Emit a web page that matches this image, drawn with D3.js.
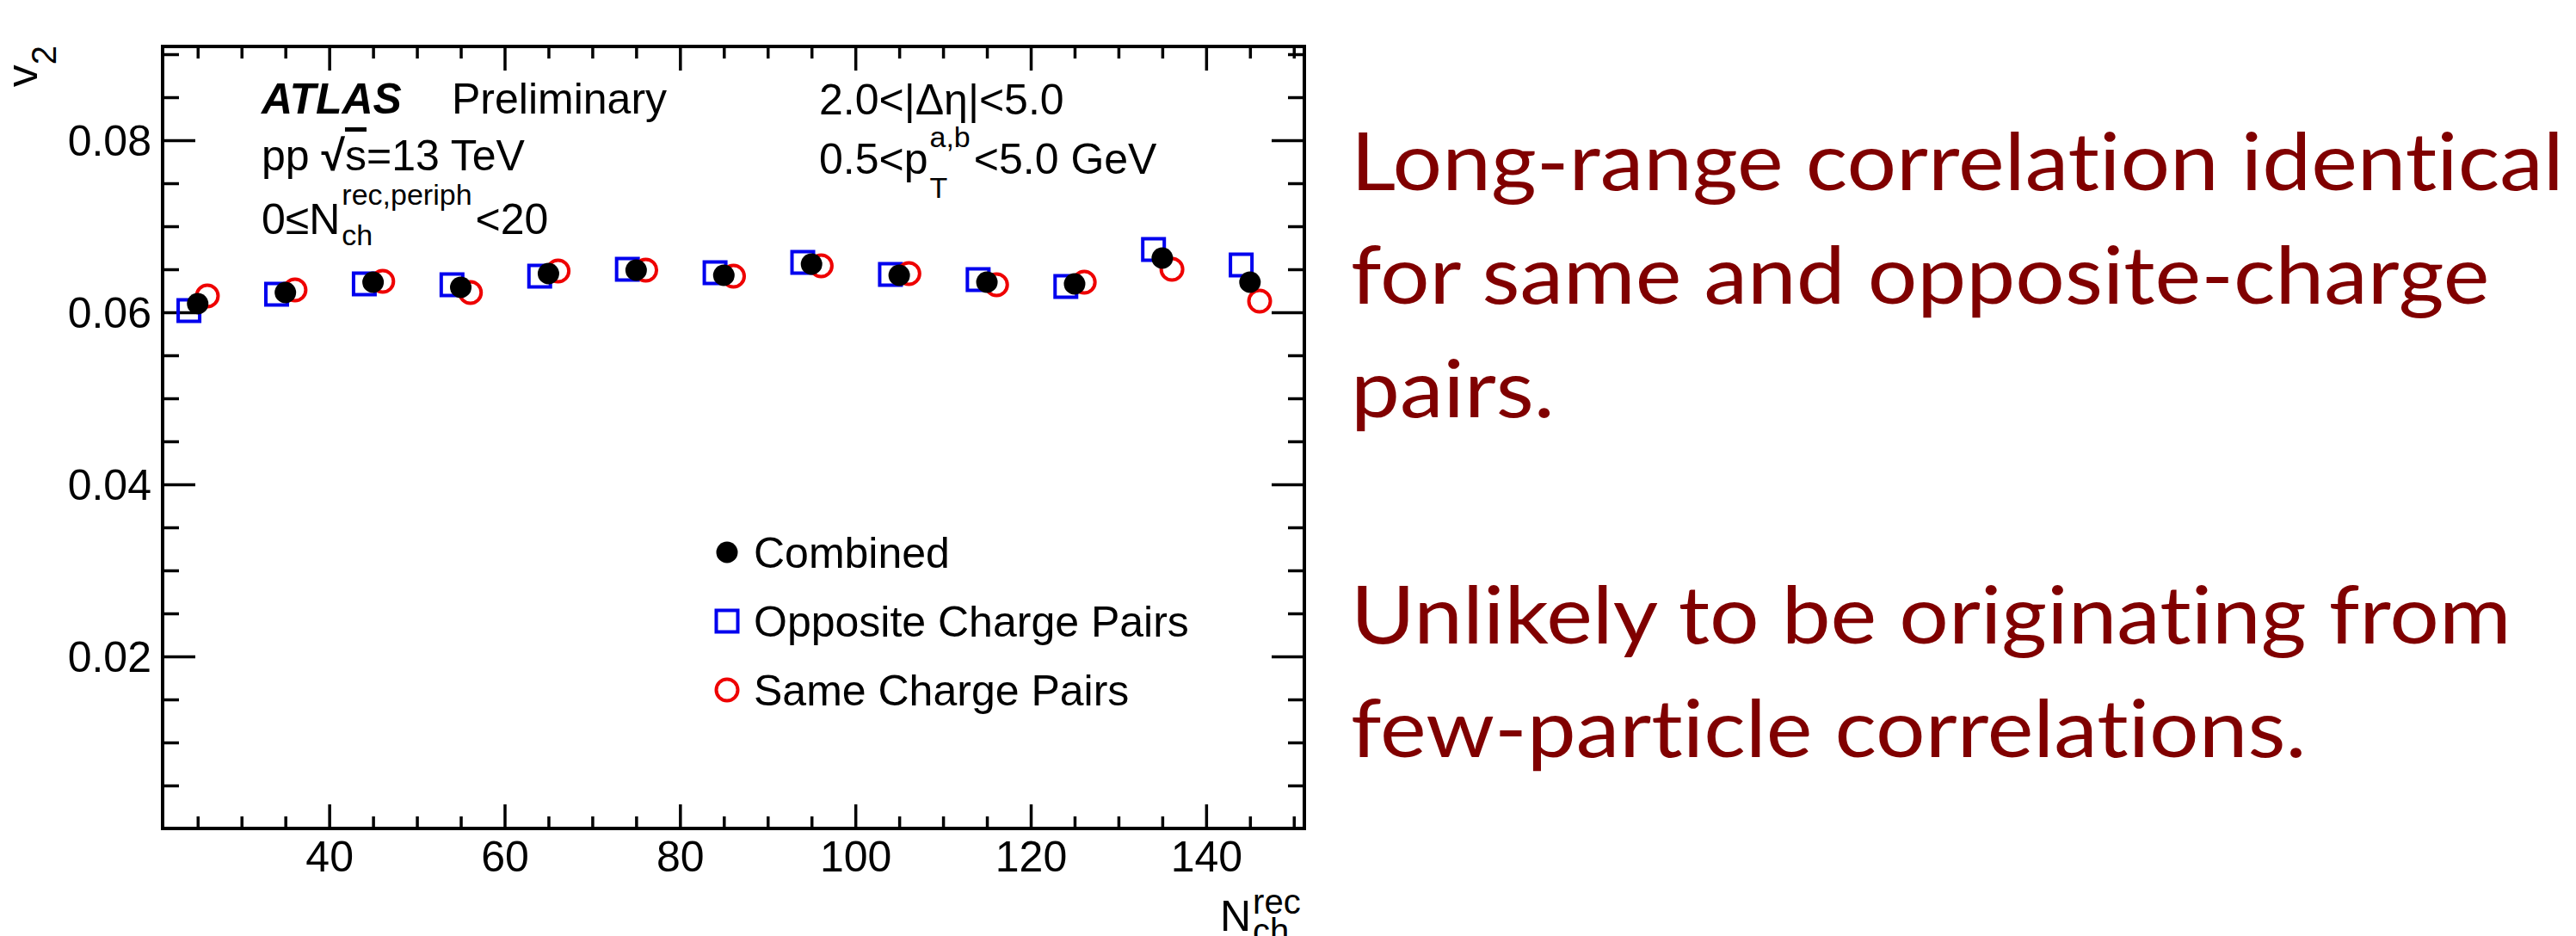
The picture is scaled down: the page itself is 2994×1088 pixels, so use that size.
<!doctype html>
<html>
<head>
<meta charset="utf-8">
<title>v2 vs Nch rec</title>
<script src="https://d3js.org/d3.v7.min.js"></script>
<style>
  body { margin: 0; background: #fff; }
  text { font-family: 'Liberation Sans', Arial, Helvetica, sans-serif; fill: #000; }
  .note { font-family: Lato, Carlito, Calibri, sans-serif; fill: #800000; font-variant-ligatures: none; }
</style>
</head>
<body>
<svg id="chart" width="2994" height="1088"></svg>
<script>
// values
const nch = [25, 35, 45, 55, 65, 75, 85, 95, 105, 115, 125, 135, 145];
const combined = [0.0610, 0.0623, 0.0635, 0.0629, 0.0645, 0.0649, 0.0643, 0.0656, 0.0643, 0.0635, 0.0633, 0.0663, 0.0635];
const opposite = [0.0602, 0.0621, 0.0633, 0.0632, 0.0642, 0.0650, 0.0646, 0.0658, 0.0644, 0.0638, 0.0630, 0.0673, 0.0655];
const same     = [0.0619, 0.0626, 0.0636, 0.0623, 0.0648, 0.0649, 0.0642, 0.0654, 0.0645, 0.0632, 0.0635, 0.0650, 0.0613];

const xMajor = [40, 60, 80, 100, 120, 140];
const xMinor = [25, 30, 35, 45, 50, 55, 65, 70, 75, 85, 90, 95, 105, 110, 115, 125, 130, 135, 145, 150];
const yMajor = [0.02, 0.04, 0.06, 0.08];
const yMinor = [0.005, 0.01, 0.015, 0.025, 0.03, 0.035, 0.045, 0.05, 0.055, 0.065, 0.07, 0.075, 0.085, 0.09];

const legendLabels = ["Combined", "Opposite Charge Pairs", "Same Charge Pairs"];
const noteLines = ["Long-range correlation identical", "for same and opposite-charge", "pairs.", "",
                   "Unlikely to be originating from", "few-particle correlations."];

// little horizontal shift of the two charge selections (in Nch units)
const oppShift = -1.0, sameShift = 1.1;

const svg = d3.select("#chart");
const L = 189, R = 1516, T = 54, B = 963;
const fs = 50;

const x = d3.scaleLinear().domain([21, 151.2]).range([L, R]);
const y = d3.scaleLinear().domain([0, 0.0909]).range([B, T]);

function tickAxis(axis, pos, major, minor, bigLen, smallLen, fmt) {
  const g1 = svg.append("g").attr("transform", pos)
    .call(axis.tickValues(major).tickSize(bigLen).tickFormat(fmt));
  const g2 = svg.append("g").attr("transform", pos)
    .call(axis.tickValues(minor).tickSize(smallLen).tickFormat(""));
  [g1, g2].forEach(g => {
    g.select(".domain").remove();
    g.selectAll(".tick line").attr("stroke", "#000").attr("stroke-width", 3.5);
  });
  return g1;
}

// bottom & top
const bx = tickAxis(d3.axisBottom(x), `translate(0,${B})`, xMajor, xMinor, -28, -14, d3.format("d"));
bx.selectAll("text").attr("font-size", fs).attr("y", 50).attr("dy", 0).attr("fill", "#000");
tickAxis(d3.axisTop(x), `translate(0,${T})`, xMajor, xMinor, -28, -14, "");
// left & right
const ly = tickAxis(d3.axisLeft(y), `translate(${L},0)`, yMajor, yMinor, -38, -19, d3.format(".2f"));
ly.selectAll("text").attr("font-size", fs).attr("x", -13).attr("dy", "0.35em").attr("fill", "#000");
tickAxis(d3.axisRight(y), `translate(${R},0)`, yMajor, yMinor, -38, -19, "");

svg.append("rect").attr("x", L).attr("y", T).attr("width", R - L).attr("height", B - T)
  .attr("fill", "none").attr("stroke", "#000").attr("stroke-width", 4);

// markers
function square(g, cx, cy) {
  g.append("rect").attr("x", cx - 12.5).attr("y", cy - 12.5).attr("width", 25).attr("height", 25)
    .attr("fill", "none").attr("stroke", "#0000ee").attr("stroke-width", 4);
}
function ring(g, cx, cy) {
  g.append("circle").attr("cx", cx).attr("cy", cy).attr("r", 12.5)
    .attr("fill", "none").attr("stroke", "#ee0000").attr("stroke-width", 4);
}
function dot(g, cx, cy) {
  g.append("circle").attr("cx", cx).attr("cy", cy).attr("r", 12.5).attr("fill", "#000");
}

const pts = svg.append("g");
nch.forEach((n, i) => square(pts, x(n + oppShift), y(opposite[i])));
nch.forEach((n, i) => ring(pts, x(n + sameShift), y(same[i])));
nch.forEach((n, i) => dot(pts, x(n), y(combined[i])));

// legend
const leg = svg.append("g");
const markers = [dot, square, ring];
legendLabels.forEach((lab, i) => {
  const cy = 642 + i * 80;
  markers[i](leg, 845, cy);
  leg.append("text").attr("x", 876).attr("y", cy + 18).attr("font-size", fs).text(lab);
});

// TLatex-like base_{sub}^{sup}rest
function subsup(g, x0, y0, base, sub, sup, rest, o) {
  const t = g.append("text").attr("x", x0).attr("y", y0).attr("font-size", o.size).text(base);
  const xs = x0 + t.node().getComputedTextLength() + (o.gap || 2);
  const a = g.append("text").attr("x", xs).attr("y", y0 + o.subDy).attr("font-size", o.small).text(sub);
  const b = g.append("text").attr("x", xs).attr("y", y0 + o.supDy).attr("font-size", o.small).text(sup);
  const w2 = Math.max(a.node().getComputedTextLength(), b.node().getComputedTextLength());
  if (rest) g.append("text").attr("x", xs + w2 + 4).attr("y", y0).attr("font-size", o.size).text(rest);
}

const ann = svg.append("g");
ann.append("text").attr("x", 304).attr("y", 132).attr("font-size", fs)
  .attr("font-weight", "bold").attr("font-style", "italic").text("ATLAS");
ann.append("text").attr("x", 525).attr("y", 132).attr("font-size", fs).text("Preliminary");

const pp = ann.append("text").attr("x", 304).attr("y", 198).attr("font-size", fs);
pp.append("tspan").text("pp ");
pp.append("tspan").attr("font-weight", "bold").text("√");
pp.append("tspan").attr("style", "text-decoration: overline").text("s");
pp.append("tspan").text("=13 TeV");

subsup(ann, 304, 272, "0≤N", "ch", "rec,periph", "<20", {size: fs, small: 34, subDy: 13, supDy: -34});
ann.append("text").attr("x", 952).attr("y", 133).attr("font-size", fs).text("2.0<|Δη|<5.0");
subsup(ann, 952, 202, "0.5<p", "T", "a,b", "<5.0 GeV", {size: fs, small: 34, subDy: 28, supDy: -31});

// axis titles
subsup(svg, 1418, 1082, "N", "ch", "rec", "", {size: 50, small: 40, subDy: 14, supDy: -20});
const yl = svg.append("text").attr("transform", "translate(43,53) rotate(-90)")
  .attr("text-anchor", "end").attr("font-size", 52);
yl.append("tspan").text("v");
yl.append("tspan").attr("font-size", 40).attr("dy", 22).text("2");

// notes on the right
const notes = svg.append("g");
const nt = notes.selectAll("text").data(noteLines).join("text")
  .attr("class", "note").attr("x", 0).attr("y", (d, i) => 221 + i * 131.8)
  .attr("font-size", 94).text(d => d);
const w0 = nt.nodes()[0].getComputedTextLength();
notes.attr("transform", `translate(1570,0) scale(${1410 / w0},1)`);
</script>
</body>
</html>
